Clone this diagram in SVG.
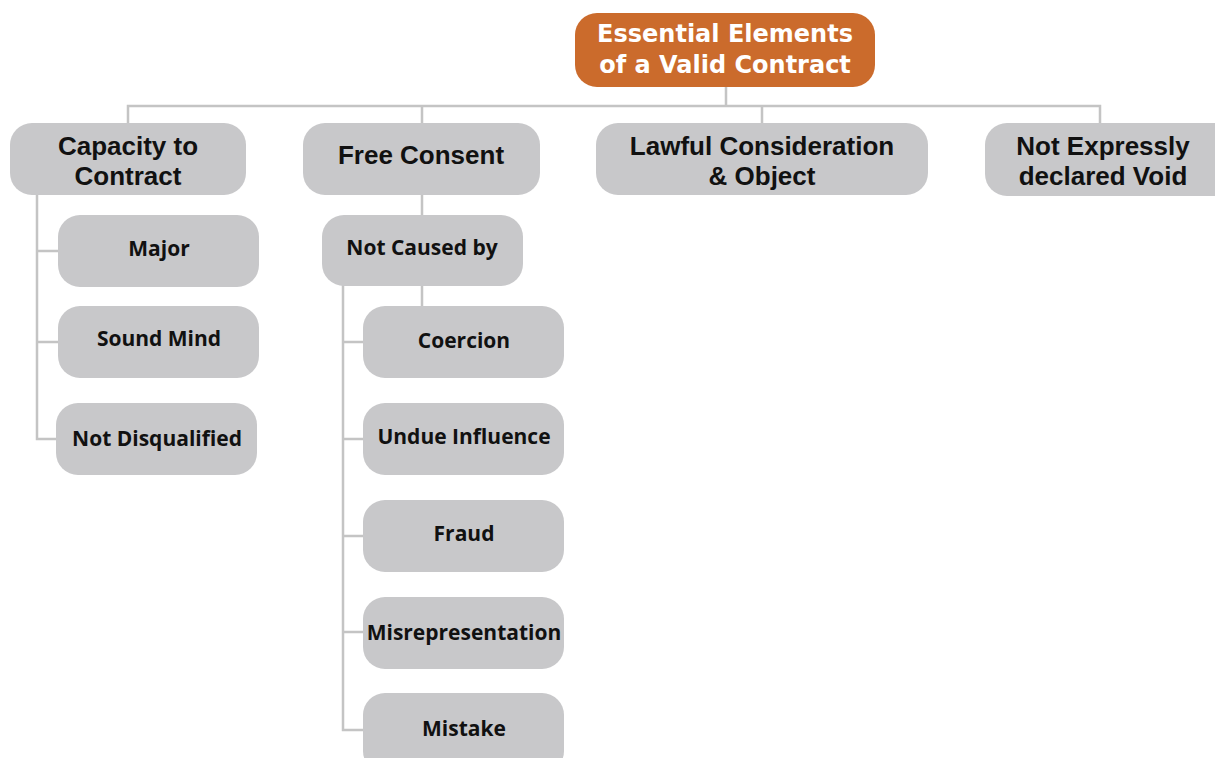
<svg xmlns="http://www.w3.org/2000/svg" width="1215" height="758" viewBox="0 0 1215 758">
<style>
.box{fill:#c8c8ca;}
.root{fill:#cb6b2c;}
.t{font-family:"Open Sans","Liberation Sans",sans-serif;font-weight:bold;fill:#111;text-anchor:middle;}
.big{font-family:"Liberation Sans",Arial,sans-serif;font-size:26px;}
.sm{font-size:21px;}
.rt{font-family:"DejaVu Sans","Liberation Sans",sans-serif;font-weight:bold;font-size:24px;fill:#fff;text-anchor:middle;}
.ln{fill:none;stroke:#c4c4c4;stroke-width:2.5;}
</style>
<rect width="1215" height="758" fill="#fff"/>
<g id="connectors">
<path class="ln" d="M726 87V106M128 124V106H1100V124M422 106V124M762 106V124"/>
<path class="ln" d="M37 195V439H58M37 251H58M37 342H58"/>
<path class="ln" d="M422 195V215M422 285V306M343 285V730H364M343 342H364M343 439H364M343 536H364M343 632H364"/>
</g>
<g id="root"><rect class="root" x="575" y="13" width="300" height="74" rx="22"/>
<text class="rt" x="725" y="42">Essential Elements</text><text class="rt" x="725" y="73">of a Valid Contract</text></g>
<g id="capacity"><rect class="box" x="10" y="123" width="236" height="72" rx="22"/>
<text class="t big" x="128" y="155">Capacity to</text><text class="t big" x="128" y="185">Contract</text></g>
<g id="free-consent"><rect class="box" x="303" y="123" width="237" height="72" rx="22"/>
<text class="t big" x="421" y="164">Free Consent</text></g>
<g id="lawful"><rect class="box" x="596" y="123" width="332" height="72" rx="22"/>
<text class="t big" x="762" y="155">Lawful Consideration</text><text class="t big" x="762" y="185">&amp; Object</text></g>
<g id="not-expressly"><rect class="box" x="985" y="123" width="250" height="73" rx="22"/>
<text class="t big" x="1103" y="155">Not Expressly</text><text class="t big" x="1103" y="185">declared Void</text></g>
<g id="major"><rect class="box" x="58" y="215" width="201" height="72" rx="22"/>
<text class="t sm" x="159" y="256">Major</text></g>
<g id="sound-mind"><rect class="box" x="58" y="306" width="201" height="72" rx="22"/>
<text class="t sm" x="159" y="346">Sound Mind</text></g>
<g id="not-disqualified"><rect class="box" x="56" y="403" width="201" height="72" rx="22"/>
<text class="t sm" x="157" y="446">Not Disqualified</text></g>
<g id="not-caused-by"><rect class="box" x="322" y="215" width="201" height="71" rx="22"/>
<text class="t sm" x="422" y="255">Not Caused by</text></g>
<g id="coercion"><rect class="box" x="363" y="306" width="201" height="72" rx="22"/>
<text class="t sm" x="464" y="348">Coercion</text></g>
<g id="undue-influence"><rect class="box" x="363" y="403" width="201" height="72" rx="22"/>
<text class="t sm" x="464" y="444">Undue Influence</text></g>
<g id="fraud"><rect class="box" x="363" y="500" width="201" height="72" rx="22"/>
<text class="t sm" x="464" y="541">Fraud</text></g>
<g id="misrepresentation"><rect class="box" x="363" y="597" width="201" height="72" rx="22"/>
<text class="t sm" x="464" y="640">Misrepresentation</text></g>
<g id="mistake"><rect class="box" x="363" y="693" width="201" height="80" rx="22"/>
<text class="t sm" x="464" y="736">Mistake</text></g>
</svg>
